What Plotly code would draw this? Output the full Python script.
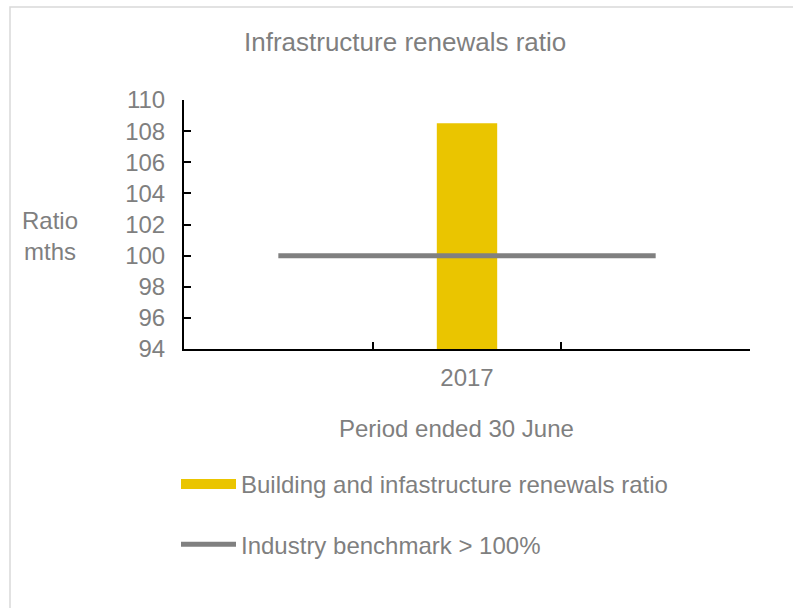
import plotly.graph_objects as go

categories = [" ", "2017", "  "]
renewals_ratio = [None, 108.5, None]
benchmark = [100, 100, 100]
y_ticks = [94, 96, 98, 100, 102, 104, 106, 108, 110]

GREY = "#7f7f7f"
YELLOW = "#EAC500"
FONT = "Liberation Sans, Arial, sans-serif"

W, H = 793, 608
L, R, T, B = 184, 43, 100, 259
pw, ph = W - L - R, H - T - B

def px(x):
    return (x - L) / pw

def py(y):
    return (H - B - y) / ph

bar_name = "Building and infastructure renewals ratio"

fig = go.Figure()
fig.add_trace(go.Bar(
    x=categories, y=renewals_ratio, width=0.32,
    marker=dict(color=YELLOW, line=dict(width=0)),
    name=bar_name, legendgroup="a", showlegend=False,
))
# legend key for the bar series (wide swatch, as in the reference)
fig.add_trace(go.Scatter(
    x=[None], y=[None], mode="lines",
    line=dict(color=YELLOW, width=17),
    name=bar_name, legendgroup="a", showlegend=True, hoverinfo="skip",
))
fig.add_trace(go.Scatter(
    x=categories, y=benchmark, mode="lines",
    line=dict(color="#808080", width=5),
    name="Industry benchmark > 100%",
    legendgroup="b",
))

fig.update_layout(
    width=W, height=H,
    margin=dict(l=L, r=R, t=T, b=B),
    paper_bgcolor="white", plot_bgcolor="white",
    font=dict(family=FONT, size=24, color=GREY),
    showlegend=True,
    legend=dict(
        x=px(176), xanchor="left", y=py(462), yanchor="top",
        orientation="v", traceorder="grouped", tracegroupgap=26,
        itemwidth=55, font=dict(size=24, color=GREY),
        bgcolor="rgba(0,0,0,0)",
    ),
    xaxis=dict(
        type="category", categoryorder="array", categoryarray=categories,
        range=[-0.5, 2.5], tickson="boundaries",
        showline=True, linecolor="black", linewidth=2,
        ticks="inside", ticklen=7, tickwidth=2, tickcolor="black",
        showgrid=False, zeroline=False,
        tickfont=dict(size=24, color=GREY), ticklabelstandoff=6,
    ),
    yaxis=dict(
        range=[94, 110], tickvals=y_ticks,
        showline=True, linecolor="black", linewidth=2,
        ticks="inside", ticklen=7, tickwidth=2, tickcolor="black",
        showgrid=False, zeroline=False,
        tickfont=dict(size=24, color=GREY), ticklabelstandoff=12,
    ),
    annotations=[
        dict(text="Infrastructure renewals ratio", xref="paper", yref="paper",
             x=px(405), y=py(42), xanchor="center", yanchor="middle",
             showarrow=False, font=dict(size=26, color=GREY)),
        dict(text="Period ended 30 June", xref="paper", yref="paper",
             x=px(456), y=py(428), xanchor="center", yanchor="middle",
             showarrow=False, font=dict(size=24, color=GREY)),
        dict(text="Ratio<br>mths", xref="paper", yref="paper",
             x=px(50), y=py(236), xanchor="center", yanchor="middle",
             showarrow=False, align="center", font=dict(size=24, color=GREY)),
    ],
    shapes=[
        dict(type="rect", xref="paper", yref="paper",
             x0=px(10), y0=py(640), x1=px(820), y1=py(7),
             line=dict(color="#d9d9d9", width=1.5), fillcolor="rgba(0,0,0,0)",
             layer="below"),
    ],
)

fig.write_html("out.html")
